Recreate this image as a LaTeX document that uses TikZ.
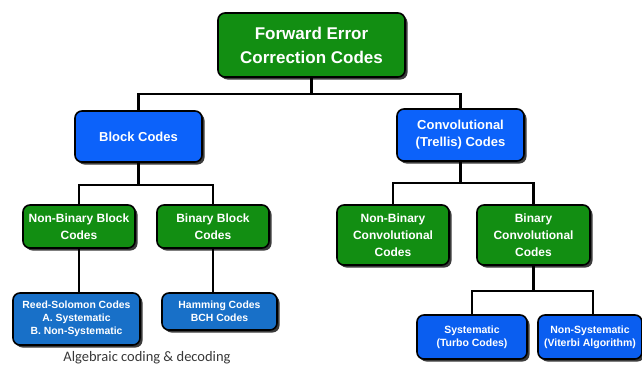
\documentclass[tikz,border=0pt]{standalone}
\usepackage{fontspec}
\setmainfont{Liberation Sans}
\newfontfamily\calib{Carlito}
\usetikzlibrary{shadows}
\definecolor{fecgreen}{RGB}{18,142,18}
\definecolor{fecblue}{RGB}{12,98,250}
\definecolor{fecmid}{RGB}{24,112,200}
\definecolor{fecbright}{RGB}{10,94,240}
\definecolor{labgray}{RGB}{55,55,55}
\tikzset{
  box/.style={draw=black, line width=1.6pt, rounded corners=7pt, align=center,
    text=white, inner sep=0pt, font=\bfseries,
    drop shadow={shadow xshift=2.5pt, shadow yshift=-2.5pt, fill=black!85, opacity=0.9}},
  gbox/.style={box, fill=fecgreen},
  bbox/.style={box, fill=fecblue},
  mbox/.style={box, fill=fecmid},
  rbox/.style={box, fill=fecbright},
  conn/.style={draw=black, line width=2.2pt},
}
\begin{document}
\begin{tikzpicture}[x=1pt,y=-1pt]
\useasboundingbox (0,0) rectangle (642,367);
\node[gbox, minimum width=187pt, minimum height=64pt, font=\fontsize{17}{24}\selectfont\bfseries] (top) at (311.5,45) {Forward Error\\Correction Codes};
\node[bbox, minimum width=127pt, minimum height=51pt, font=\fontsize{13}{17}\selectfont\bfseries] (block) at (138.5,136.5) {Block Codes};
\node[bbox, minimum width=127pt, minimum height=52pt, font=\fontsize{13}{17}\selectfont\bfseries] (conv) at (460.5,135) {Convolutional\\(Trellis) Codes};
\node[gbox, minimum width=112pt, minimum height=43pt, font=\fontsize{12}{17}\selectfont\bfseries] (nbb) at (79,226.5) {Non-Binary Block\\Codes};
\node[gbox, minimum width=112pt, minimum height=43pt, font=\fontsize{12}{17}\selectfont\bfseries] (bb) at (213,226.5) {Binary Block\\Codes};
\node[gbox, minimum width=112pt, minimum height=60pt, font=\fontsize{12}{17}\selectfont\bfseries] (nbc) at (393,235) {Non-Binary\\Convolutional\\Codes};
\node[gbox, minimum width=113pt, minimum height=60pt, font=\fontsize{12}{17}\selectfont\bfseries] (bc) at (533.5,235) {Binary\\Convolutional\\Codes};
\node[mbox, minimum width=127pt, minimum height=52pt, font=\fontsize{10.4}{13}\selectfont\bfseries] (rs) at (76.5,319) {Reed-Solomon Codes\\A. Systematic\\B. Non-Systematic};
\node[mbox, minimum width=115pt, minimum height=37pt, font=\fontsize{10.4}{13}\selectfont\bfseries] (hm) at (219.5,311.5) {Hamming Codes\\BCH Codes};
\node[rbox, minimum width=110pt, minimum height=44pt, font=\fontsize{10.5}{13}\selectfont\bfseries] (sys) at (472,337) {Systematic\\(Turbo Codes)};
\node[rbox, minimum width=104pt, minimum height=44pt, font=\fontsize{10.5}{13}\selectfont\bfseries] (nsys) at (590,337) {Non-Systematic\\(Viterbi Algorithm)};
\node[font=\calib\fontsize{14.5}{17}\selectfont, text=labgray, inner sep=0pt] (alg) at (147,358) {Algebraic coding \& decoding};
% connectors
\draw[conn] (top.south) -- ++(0,16) coordinate (j0) -| (block.north);
\draw[conn] (j0) -| (conv.north);
\draw[conn] (block.south) -- ++(0,22) coordinate (j1) -| (nbb.north);
\draw[conn] (j1) -| (bb.north);
\draw[conn] (conv.south) -- ++(0,21) coordinate (j2) -| (nbc.north);
\draw[conn] (j2) -| (bc.north);
\draw[conn] (nbb.south) -- (nbb.south |- rs.north);
\draw[conn] (bb.south) -- (bb.south |- hm.north);
\draw[conn] (bc.south) -- ++(0,25) coordinate (j3) -| (sys.north);
\draw[conn] (j3) -| ([xshift=3pt]nsys.north);
\end{tikzpicture}
\end{document}
